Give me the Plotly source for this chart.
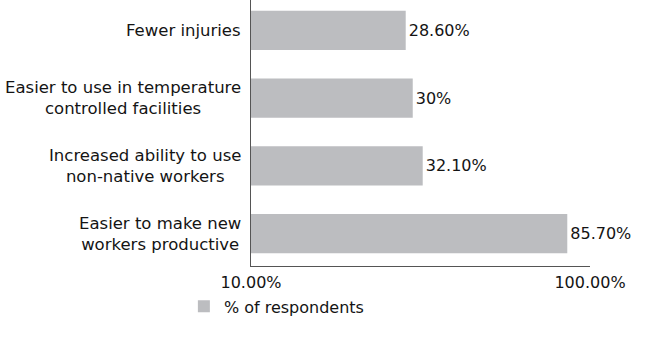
import plotly.graph_objects as go

# Survey results, listed bottom-to-top as they appear on the axis
categories = [
    "Easier to make new<br>workers productive",
    "Increased ability to use<br>non-native workers",
    "Easier to use in temperature<br>controlled facilities",
    "Fewer injuries",
]
values = [85.7, 32.1, 30.0, 28.6]
series_name = "% of respondents"
x_tick_vals = [10, 100]
x_tick_text = ["10.00%", "100.00%"]


def pct_label(v):
    return f"{v:.0f}%" if float(v).is_integer() else f"{v:.2f}%"


BAR = "#bcbdc0"
INK = "#141414"
AXIS = "#555555"
FONT = "DejaVu Sans"

fig = go.Figure(
    go.Bar(
        x=values,
        y=categories,
        orientation="h",
        name=series_name,
        marker=dict(color=BAR, line=dict(width=0)),
        text=[pct_label(v) for v in values],
        textposition="outside",
        textfont=dict(family=FONT, size=16, color=INK),
        cliponaxis=False,
        showlegend=True,
    )
)

# Category labels as centred multi-line text to the left of the axis
for cat in categories:
    fig.add_annotation(
        x=0,
        xref="paper",
        y=cat,
        yref="y",
        text=cat,
        xanchor="right",
        yanchor="middle",
        align="center",
        showarrow=False,
        xshift=-8,
        font=dict(family=FONT, size=16.5, color=INK),
    )

fig.update_layout(
    width=656,
    height=338,
    margin=dict(l=251, r=66, t=0, b=72),
    paper_bgcolor="white",
    plot_bgcolor="white",
    bargap=0.42,
    font=dict(family=FONT, size=16, color=INK),
    xaxis=dict(
        type="log",
        range=[1, 2],
        tickvals=x_tick_vals,
        ticktext=x_tick_text,
        showgrid=False,
        zeroline=False,
        showline=True,
        linecolor=AXIS,
        linewidth=1,
        ticks="",
        ticklabelstandoff=2,
        tickfont=dict(family=FONT, size=16, color=INK),
    ),
    yaxis=dict(
        range=[-0.48, 3.45],
        showgrid=False,
        zeroline=False,
        showline=True,
        linecolor=AXIS,
        linewidth=1,
        ticks="",
        showticklabels=False,
    ),
    legend=dict(
        orientation="h",
        x=-0.198,
        xanchor="left",
        y=-0.088,
        yanchor="top",
        font=dict(family=FONT, size=16, color=INK),
        bgcolor="rgba(0,0,0,0)",
    ),
)

fig.write_html("out.html")
